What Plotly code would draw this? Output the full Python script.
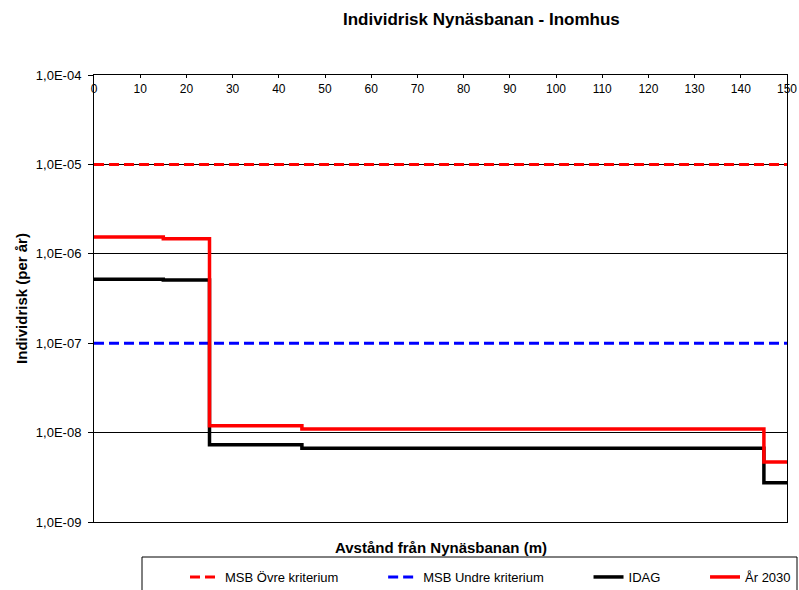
import plotly.graph_objects as go

# avstånd (m) där risknivån ändras, sista punkten avslutar trappan
avstand = [0, 15, 25, 45, 145, 150]
idag = [5.2e-7, 5.1e-7, 7.3e-9, 6.7e-9, 2.75e-9, 2.75e-9]
ar_2030 = [1.54e-6, 1.47e-6, 1.19e-8, 1.1e-8, 4.7e-9, 4.7e-9]

kriterie_x = [0, 150]
msb_ovre = [1e-5, 1e-5]
msb_undre = [1e-7, 1e-7]

y_ticks = [1e-9, 1e-8, 1e-7, 1e-6, 1e-5, 1e-4]
y_ticktext = ["1,0E-09", "1,0E-08", "1,0E-07", "1,0E-06", "1,0E-05", "1,0E-04"]
x_ticks = list(range(0, 151, 10))

FONT = "Liberation Sans, Arial, sans-serif"
W, H = 799, 590
L, T = 94, 75
R = W - 787
B = H - 522

NB = "\u00a0"


def pad(name, n):
    # luft mellan legendposterna som i Excel-legenden
    return name + NB * n


fig = go.Figure()

fig.add_trace(go.Scatter(
    x=kriterie_x, y=msb_ovre, mode="lines", name=pad("MSB Övre kriterium", 11),
    line=dict(color="#ff0000", width=3, dash="10px,5px"),
))
# vit botten under undre kriteriet, stödlinjen syns inte mellan strecken där
fig.add_trace(go.Scatter(
    x=kriterie_x, y=msb_undre, mode="lines", showlegend=False, hoverinfo="skip",
    line=dict(color="white", width=3),
))
fig.add_trace(go.Scatter(
    x=kriterie_x, y=msb_undre, mode="lines", name=pad("MSB Undre kriterium", 11),
    line=dict(color="#0000ff", width=3, dash="10px,5px"),
))
fig.add_trace(go.Scatter(
    x=avstand, y=idag, mode="lines", name=pad("IDAG", 11), line_shape="hv",
    line=dict(color="#000000", width=3.5),
))
fig.add_trace(go.Scatter(
    x=avstand, y=ar_2030, mode="lines", name="År 2030", line_shape="hv",
    line=dict(color="#ff0000", width=3.5),
))

fig.update_xaxes(
    range=[0, 150], side="top", tickvals=x_ticks, automargin=False,
    ticks="inside", ticklen=3, tickcolor="black",
    ticklabelposition="inside", ticklabeloverflow="allow", ticklabelstandoff=6,
    showgrid=False, zeroline=False,
    showline=True, linecolor="black", linewidth=1, mirror=True,
    tickfont=dict(family=FONT, size=12, color="black"),
)
fig.update_yaxes(
    type="log", range=[-9, -4], tickvals=y_ticks, ticktext=y_ticktext,
    automargin=False,
    ticks="outside", ticklen=5, tickcolor="black", ticklabelstandoff=4,
    showgrid=True, gridcolor="black", gridwidth=1,
    showline=True, linecolor="black", linewidth=1, mirror=True,
    tickfont=dict(family=FONT, size=13, color="black"),
    title=dict(text="<b>Individrisk (per år)</b>", standoff=4,
               font=dict(family=FONT, size=15, color="black")),
)

pw = W - L - R
ph = H - T - B


def px_x(px):
    return (px - L) / pw


def px_y(py):
    return (H - B - py) / ph


fig.add_annotation(
    text="<b>Individrisk Nynäsbanan - Inomhus</b>", xref="paper", yref="paper",
    x=px_x(481), y=px_y(20), xanchor="center", yanchor="middle", showarrow=False,
    font=dict(family=FONT, size=17, color="black"),
)
fig.add_annotation(
    text="<b>Avstånd från Nynäsbanan (m)</b>", xref="paper", yref="paper",
    x=px_x(441), y=px_y(547), xanchor="center", yanchor="middle", showarrow=False,
    font=dict(family=FONT, size=15, color="black"),
)

# legendram som i originalet, fortsätter utanför bilden
fig.add_shape(
    type="rect", xref="paper", yref="paper",
    x0=px_x(142), x1=px_x(797), y0=px_y(557), y1=px_y(600),
    line=dict(color="black", width=1), fillcolor="white", layer="below",
)

fig.update_layout(
    width=W, height=H,
    margin=dict(l=L, r=R, t=T, b=B, autoexpand=False),
    plot_bgcolor="white", paper_bgcolor="white",
    font=dict(family=FONT, size=12, color="black"),
    showlegend=True,
    legend=dict(
        orientation="h", xref="container", yref="container",
        x=185 / W, y=1 - 562 / H, xanchor="left", yanchor="top",
        bgcolor="rgba(0,0,0,0)", borderwidth=0,
        font=dict(family=FONT, size=13, color="black"),
        itemwidth=30,
    ),
)

fig.write_html(
    "out.html",
    config={"displayModeBar": False},
    post_script="document.body.style.margin='0';document.body.style.overflow='hidden';",
)
